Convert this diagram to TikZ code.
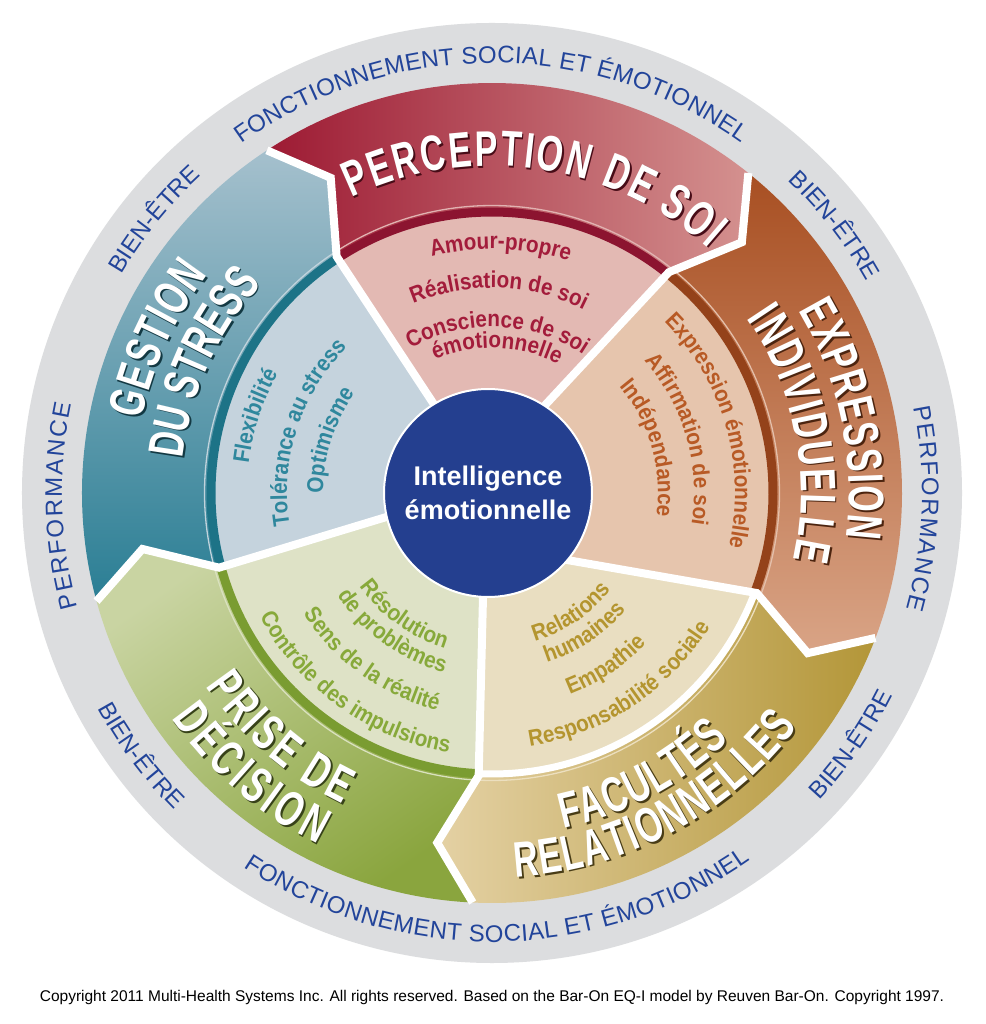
\documentclass[tikz,border=0pt]{standalone}
\usepackage{fontspec}
\setmainfont{Liberation Sans}
\newfontfamily\condfamily{Liberation Sans}[FakeStretch=0.68]
\newfontfamily\wedgefamily{Liberation Sans}[FakeStretch=0.9]
\usetikzlibrary{decorations.text,calc}

\definecolor{ringgrey}{HTML}{DCDDDF}
\definecolor{ringtext}{HTML}{22449A}
\definecolor{percDark}{HTML}{9D1A33}
\definecolor{percLight}{HTML}{D4918F}
\definecolor{percWedge}{HTML}{E3B9B3}
\definecolor{percText}{HTML}{A31C3B}
\definecolor{percArc}{HTML}{8C1430}
\definecolor{exprDark}{HTML}{A84F22}
\definecolor{exprLight}{HTML}{D9A486}
\definecolor{exprWedge}{HTML}{E6C5AD}
\definecolor{exprText}{HTML}{B85A25}
\definecolor{exprArc}{HTML}{94421A}
\definecolor{facGold}{HTML}{B39638}
\definecolor{facLight}{HTML}{E4D1A4}
\definecolor{facWedge}{HTML}{E9DEC1}
\definecolor{facText}{HTML}{B4952F}
\definecolor{priseDark}{HTML}{8AA53E}
\definecolor{priseLight}{HTML}{C9D4A2}
\definecolor{priseWedge}{HTML}{DEE2C6}
\definecolor{priseText}{HTML}{87A93A}
\definecolor{priseArc}{HTML}{7A9C31}
\definecolor{gestDark}{HTML}{2A7E94}
\definecolor{gestLight}{HTML}{A5C0CD}
\definecolor{gestWedge}{HTML}{C5D3DD}
\definecolor{gestText}{HTML}{2F879D}
\definecolor{gestArc}{HTML}{1D7387}
\definecolor{eqblue}{HTML}{243F8F}

\newcommand\ttfnt{\condfamily\bfseries\fontsize{50}{50}\selectfont}
\newcommand\wfnt{\wedgefamily\bfseries\fontsize{23}{23}\selectfont}
\newcommand\rfnt{\fontsize{24}{24}\selectfont}

% band outline: #1 counterclockwise end angle, #2 clockwise end angle
\newcommand\band[2]{(#1:410) arc[start angle=#1, end angle=#2, radius=410] -- ({#2-6.2}:354) -- (#2:283) arc[start angle=#2, end angle=#1, radius=283] -- ({#1-6.2}:354) -- cycle}
% text read clockwise (tops outward): radius, centre angle, font, colour, text
\newcommand\cwtext[5]{\path[decorate,decoration={text along path,text align=center,text color=#4,text={|#3|#5}}] ({#2+70}:#1) arc[start angle={#2+70}, end angle={#2-70}, radius=#1];}
% text read counterclockwise (tops inward)
\newcommand\ccwtext[5]{\path[decorate,decoration={text along path,text align=center,text color=#4,text={|#3|#5}}] ({#2-70}:#1) arc[start angle={#2-70}, end angle={#2+70}, radius=#1];}
% text fitted between two angles: radius, start, end, font, colour, text
\newcommand\fitarc[6]{\path[decorate,decoration={text along path,text align={fit to path},text color=#5,text={|#4|#6}}] (#2:#1) arc[start angle=#2, end angle=#3, radius=#1];}
\newcommand\fittext[4]{\fitarc{#1}{#2}{#3}{\rfnt}{ringtext}{#4}}
% band title with shadow: radius, start, end, text, shadow colour
\newcommand\bandtitle[5]{\begin{scope}[shift={(1.8,-1.8)}]\fitarc{#1}{#2}{#3}{\ttfnt}{#5}{#4}\end{scope}\fitarc{#1}{#2}{#3}{\ttfnt}{white}{#4}}

\begin{document}
\begin{tikzpicture}[x=1pt,y=1pt,
  sep/.style={white,line width=8,line join=miter},
  darkarc/.style={line width=9},
  thinarc/.style={line width=1.3}]
\useasboundingbox[fill=white] (-492,-531) rectangle (493,493);
\fill[ringgrey] (0,0) circle (470);

% coordinates of the separators
\coordinate (C1) at (51.3:283);   \coordinate (P1) at (56,91);
\coordinate (C2) at (-20.7:283);  \coordinate (P2) at (75,-67);
\coordinate (C3) at (-92.7:283);  \coordinate (P3) at (-9,-104);
\coordinate (C4) at (-164.7:283); \coordinate (P4) at (-99,-22);
\coordinate (C5) at (123.3:283);  \coordinate (P5) at (-65.3,99.7);
\coordinate (Q1) at ($(C1)!1.45!(P1)$);
\coordinate (Q2) at ($(C2)!1.45!(P2)$);
\coordinate (Q3) at ($(C3)!1.45!(P3)$);
\coordinate (Q4) at ($(C4)!1.45!(P4)$);
\coordinate (Q5) at ($(C5)!1.45!(P5)$);

% bands
\path[left color=percDark, middle color=percDark, right color=percLight] \band{123.3}{51.3};
\path[top color=exprDark, middle color=exprDark, bottom color=exprLight] \band{51.3}{-20.7};
\path[left color=facLight, middle color=facGold, right color=facGold] \band{-20.7}{-92.7};
\path[top color=priseLight, middle color=priseDark!85!priseLight, bottom color=priseDark, shading angle=35] \band{-92.7}{-164.7};
\path[top color=gestLight, middle color=gestDark!90!gestLight, bottom color=gestDark] \band{195.3}{123.3};

% inner wedges
\fill[percWedge] (Q5) -- (C5) arc[start angle=123.3, end angle=51.3, radius=283] -- (Q1) -- cycle;
\fill[exprWedge] (Q1) -- (C1) arc[start angle=51.3, end angle=-20.7, radius=283] -- (Q2) -- cycle;
\fill[facWedge] (Q2) -- (C2) arc[start angle=-20.7, end angle=-92.7, radius=283] -- (Q3) -- cycle;
\fill[priseWedge] (Q3) -- (C3) arc[start angle=-92.7, end angle=-164.7, radius=283] -- (Q4) -- cycle;
\fill[gestWedge] (Q4) -- (C4) arc[start angle=195.3, end angle=123.3, radius=283] -- (Q5) -- cycle;

% inner arcs of the bands
\draw[percArc, darkarc] (123.3:281) arc[start angle=123.3, end angle=51.3, radius=281];
\draw[percLight!70!white, thinarc] (123.3:287.5) arc[start angle=123.3, end angle=51.3, radius=287.5];
\draw[exprArc, darkarc] (51.3:281) arc[start angle=51.3, end angle=-20.7, radius=281];
\draw[exprLight!70!white, thinarc] (51.3:287.5) arc[start angle=51.3, end angle=-20.7, radius=287.5];
\draw[white, line width=7] (-20.7:281) arc[start angle=-20.7, end angle=-92.7, radius=281];
\draw[facLight!70!white, thinarc] (-20.7:287.5) arc[start angle=-20.7, end angle=-92.7, radius=287.5];
\draw[priseArc, darkarc] (-92.7:281) arc[start angle=-92.7, end angle=-164.7, radius=281];
\draw[priseLight!70!white, thinarc] (-92.7:287.5) arc[start angle=-92.7, end angle=-164.7, radius=287.5];
\draw[gestArc, darkarc] (195.3:281) arc[start angle=195.3, end angle=123.3, radius=281];
\draw[gestLight!70!white, thinarc] (195.3:287.5) arc[start angle=195.3, end angle=123.3, radius=287.5];

% separators
\foreach \t/\n in {51.3/1, -20.7/2, -92.7/3, -164.7/4, 123.3/5}
  \draw[sep] (\t:410) -- ({\t-6.2}:354) -- (C\n) -- (Q\n);

% centre
\node[circle, fill=eqblue, draw=white, line width=2, minimum size=208, inner sep=0] (core) at (-4,0) {};
\node[text=white, font=\bfseries\fontsize{27}{34}\selectfont, align=center] (coretext) at (core.center) {Intelligence\\émotionnelle};

% titles
\bandtitle{327}{115.5}{48.5}{PERCEPTION DE SOI}{black!55!percDark}
\bandtitle{357}{30.8}{-7.3}{EXPRESSION}{black!55!exprDark}
\bandtitle{309}{34.4}{-12.5}{INDIVIDUELLE}{black!55!exprDark}
\bandtitle{343}{-78.0}{-46.2}{FACULTÉS}{black!60!facGold}
\bandtitle{385}{-86.5}{-37.4}{RELATIONNELLES}{black!60!facGold}
\bandtitle{345}{214}{244.4}{PRISE DE}{black!60!priseDark}
\bandtitle{392}{215.1}{243.6}{DÉCISION}{black!60!priseDark}
\bandtitle{358}{168.2}{142.4}{GESTION}{black!55!gestDark}
\bandtitle{311}{173.6}{137.8}{DU STRESS}{black!55!gestDark}

% wedge texts
\cwtext{244}{88}{\wfnt}{percText}{Amour-propre}
\cwtext{205}{88}{\wfnt}{percText}{Réalisation de soi}
\cwtext{166}{88}{\wfnt}{percText}{Conscience de soi}
\cwtext{145}{88}{\wfnt}{percText}{émotionnelle}
\cwtext{243}{16}{\wfnt}{exprText}{Expression émotionnelle}
\cwtext{202}{16}{\wfnt}{exprText}{Affirmation de soi}
\cwtext{166}{16}{\wfnt}{exprText}{Indépendance}
\ccwtext{154}{-56.5}{\wfnt}{facText}{Relations}
\ccwtext{178}{-56.5}{\wfnt}{facText}{humaines}
\ccwtext{216}{-56.5}{\wfnt}{facText}{Empathie}
\ccwtext{256}{-56.5}{\wfnt}{facText}{Responsabilité sociale}
\ccwtext{162}{234.3}{\wfnt}{priseText}{Résolution}
\ccwtext{185.5}{234.3}{\wfnt}{priseText}{de problèmes}
\ccwtext{224}{234.3}{\wfnt}{priseText}{Sens de la réalité}
\ccwtext{263}{234.3}{\wfnt}{priseText}{Contrôle des impulsions}
\cwtext{245}{162}{\wfnt}{gestText}{Flexibilité}
\cwtext{205}{162}{\wfnt}{gestText}{Tolérance au stress}
\cwtext{169}{162}{\wfnt}{gestText}{Optimisme}

% ring texts
\fittext{430}{125.7}{54.6}{FONCTIONNEMENT SOCIAL ET ÉMOTIONNEL}
\fittext{449}{236.4}{305.1}{FONCTIONNEMENT SOCIAL ET ÉMOTIONNEL}
\fittext{430}{11.5}{-15.7}{PERFORMANCE}
\fittext{430}{195.4}{168.1}{PERFORMANCE}
\cwtext{430}{141}{\rfnt}{ringtext}{BIEN-ÊTRE}
\cwtext{430}{38}{\rfnt}{ringtext}{BIEN-ÊTRE}
\ccwtext{449}{216.8}{\rfnt}{ringtext}{BIEN-ÊTRE}
\ccwtext{449}{-35}{\rfnt}{ringtext}{BIEN-ÊTRE}

% copyright
\node[font=\fontsize{15.5}{15.5}\selectfont] (copyright) at (0,-504) {Copyright 2011 Multi-Health Systems Inc. All rights reserved. Based on the Bar-On EQ-I model by Reuven Bar-On. Copyright 1997.};
\end{tikzpicture}
\end{document}
